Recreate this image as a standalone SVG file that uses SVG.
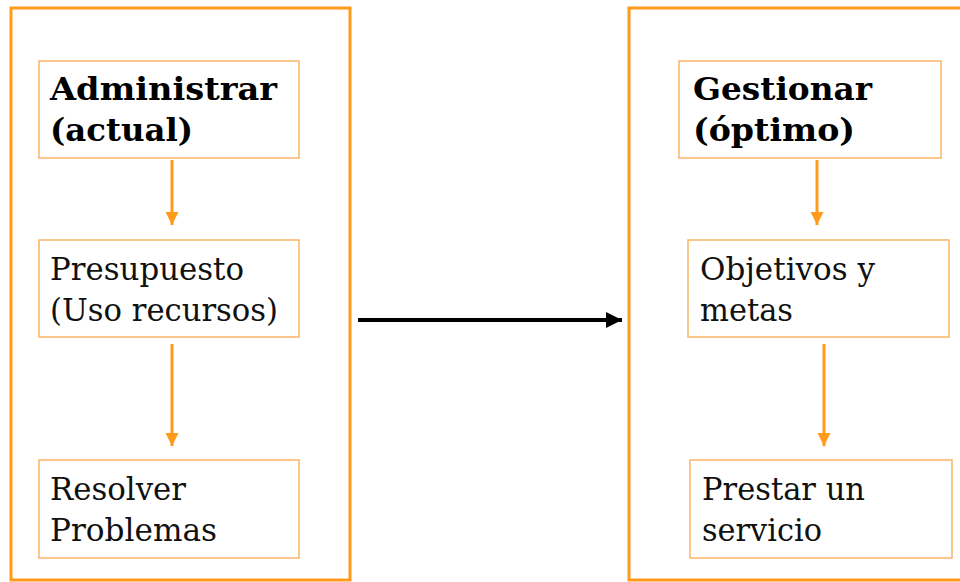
<svg xmlns="http://www.w3.org/2000/svg" width="960" height="582" viewBox="0 0 960 582">
<defs>
<style>
.frame{fill:none;stroke:#FF9A1A;stroke-width:3}
.box{fill:#fff;stroke:#FBB366;stroke-width:1.5}
.t{font-family:"DejaVu Serif","Liberation Serif",serif;font-size:31px;fill:#111}
.b{font-weight:bold;fill:#000}
.oarr{stroke:#FF9A1A;stroke-width:3;fill:none}
.karr{stroke:#000;stroke-width:4;fill:none}
</style>
<marker id="oh" viewBox="0 0 10 10" refX="10" refY="5" markerWidth="4.5" markerHeight="4.5" markerUnits="strokeWidth" orient="auto">
<path d="M0,0 L10,5 L0,10 Z" fill="#FF9A1A"/>
</marker>
<marker id="kh" viewBox="0 0 10 10" refX="10" refY="5" markerWidth="4" markerHeight="4" markerUnits="strokeWidth" orient="auto">
<path d="M0,0 L10,5 L0,10 Z" fill="#000"/>
</marker>
</defs>
<rect width="960" height="582" fill="#fff"/>
<g id="frame-left"><rect class="frame" x="11" y="8" width="339" height="572"/></g>
<g id="frame-right"><rect class="frame" x="629" y="8" width="345" height="572"/></g>
<g id="connectors">
<line class="oarr" x1="172" y1="160" x2="172" y2="225" marker-end="url(#oh)"/>
<line class="oarr" x1="172" y1="344" x2="172" y2="446" marker-end="url(#oh)"/>
<line class="oarr" x1="817" y1="160" x2="817" y2="225" marker-end="url(#oh)"/>
<line class="oarr" x1="824" y1="344" x2="824" y2="446" marker-end="url(#oh)"/>
<line class="karr" x1="358" y1="320" x2="622" y2="320" marker-end="url(#kh)"/>
</g>
<g id="administrar">
<rect class="box" x="39" y="61" width="260" height="97"/>
<text class="t b" x="50" y="100" textLength="227" lengthAdjust="spacingAndGlyphs">Administrar</text>
<text class="t b" x="50" y="141" textLength="143" lengthAdjust="spacingAndGlyphs">(actual)</text>
</g>
<g id="presupuesto">
<rect class="box" x="39" y="240" width="260" height="97"/>
<text class="t" x="50" y="280" textLength="194" lengthAdjust="spacingAndGlyphs">Presupuesto</text>
<text class="t" x="50" y="321" textLength="228" lengthAdjust="spacingAndGlyphs">(Uso recursos)</text>
</g>
<g id="resolver">
<rect class="box" x="39" y="460" width="260" height="98"/>
<text class="t" x="50" y="500" textLength="136" lengthAdjust="spacingAndGlyphs">Resolver</text>
<text class="t" x="50" y="541" textLength="167" lengthAdjust="spacingAndGlyphs">Problemas</text>
</g>
<g id="gestionar">
<rect class="box" x="679" y="61" width="262" height="97"/>
<text class="t b" x="693" y="100" textLength="179" lengthAdjust="spacingAndGlyphs">Gestionar</text>
<text class="t b" x="693" y="141" textLength="162" lengthAdjust="spacingAndGlyphs">(óptimo)</text>
</g>
<g id="objetivos">
<rect class="box" x="688" y="240" width="261" height="97"/>
<text class="t" x="700" y="280" textLength="175" lengthAdjust="spacingAndGlyphs">Objetivos y</text>
<text class="t" x="700" y="321" textLength="93" lengthAdjust="spacingAndGlyphs">metas</text>
</g>
<g id="prestar">
<rect class="box" x="690" y="460" width="262" height="98"/>
<text class="t" x="702" y="500" textLength="163" lengthAdjust="spacingAndGlyphs">Prestar un</text>
<text class="t" x="702" y="541" textLength="120" lengthAdjust="spacingAndGlyphs">servicio</text>
</g>
</svg>
